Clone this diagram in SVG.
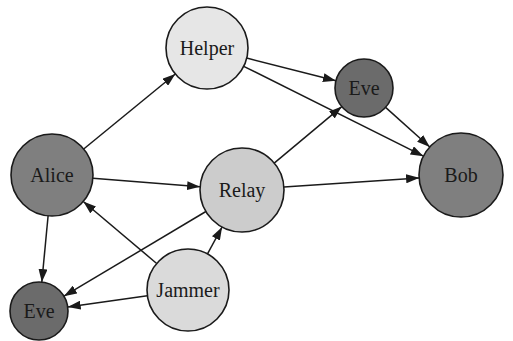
<svg xmlns="http://www.w3.org/2000/svg" width="513" height="341" viewBox="0 0 513 341">
<defs>
<marker id="arr" markerWidth="13" markerHeight="9" refX="13" refY="4.5" orient="auto" markerUnits="userSpaceOnUse">
<path d="M0,0 L13,4.5 L0,9 Z" fill="#1a1a1a"/>
</marker>
</defs>
<style>
.n{stroke:#1a1a1a;stroke-width:1.6}
.t{font-family:"Liberation Serif","Times New Roman",serif;font-size:20px;fill:#1a1a1a;text-anchor:middle}
.e line{stroke:#1a1a1a;stroke-width:1.5;marker-end:url(#arr)}
</style>
<rect width="513" height="341" fill="#fff"/>
<g id="edges" class="e">
<line x1="83.7" y1="149" x2="175.3" y2="74"/>
<line x1="246.7" y1="58.1" x2="335.9" y2="80.8"/>
<line x1="243.7" y1="66.3" x2="423.5" y2="156.2"/>
<line x1="385.6" y1="107.4" x2="429.8" y2="147"/>
<line x1="92.9" y1="178.2" x2="200.1" y2="186.7"/>
<line x1="274.2" y1="163.1" x2="341.8" y2="106.6"/>
<line x1="283.9" y1="187.1" x2="419.1" y2="177.9"/>
<line x1="48.1" y1="215.8" x2="41.8" y2="282.1"/>
<line x1="205.9" y1="211.5" x2="63.9" y2="296.2"/>
<line x1="156.7" y1="263.5" x2="83.3" y2="201.5"/>
<line x1="147.4" y1="295.7" x2="67.7" y2="307"/>
<line x1="207.5" y1="253.9" x2="222.1" y2="227"/>
</g>
<g id="helper"><circle class="n" cx="207" cy="48" r="41" fill="#e6e6e6"/><text class="t" x="207" y="55">Helper</text></g>
<g id="eve1"><circle class="n" cx="364" cy="88" r="29" fill="#6b6b6b"/><text class="t" x="364" y="95">Eve</text></g>
<g id="alice"><circle class="n" cx="52" cy="175" r="41" fill="#7f7f7f"/><text class="t" x="52" y="182">Alice</text></g>
<g id="relay"><circle class="n" cx="242" cy="190" r="42" fill="#cccccc"/><text class="t" x="242" y="197">Relay</text></g>
<g id="bob"><circle class="n" cx="461" cy="175" r="42" fill="#7f7f7f"/><text class="t" x="461" y="182">Bob</text></g>
<g id="jammer"><circle class="n" cx="188" cy="290" r="41" fill="#dadada"/><text class="t" x="188" y="297">Jammer</text></g>
<g id="eve2"><circle class="n" cx="39" cy="311" r="29" fill="#6b6b6b"/><text class="t" x="39" y="318">Eve</text></g>
</svg>
